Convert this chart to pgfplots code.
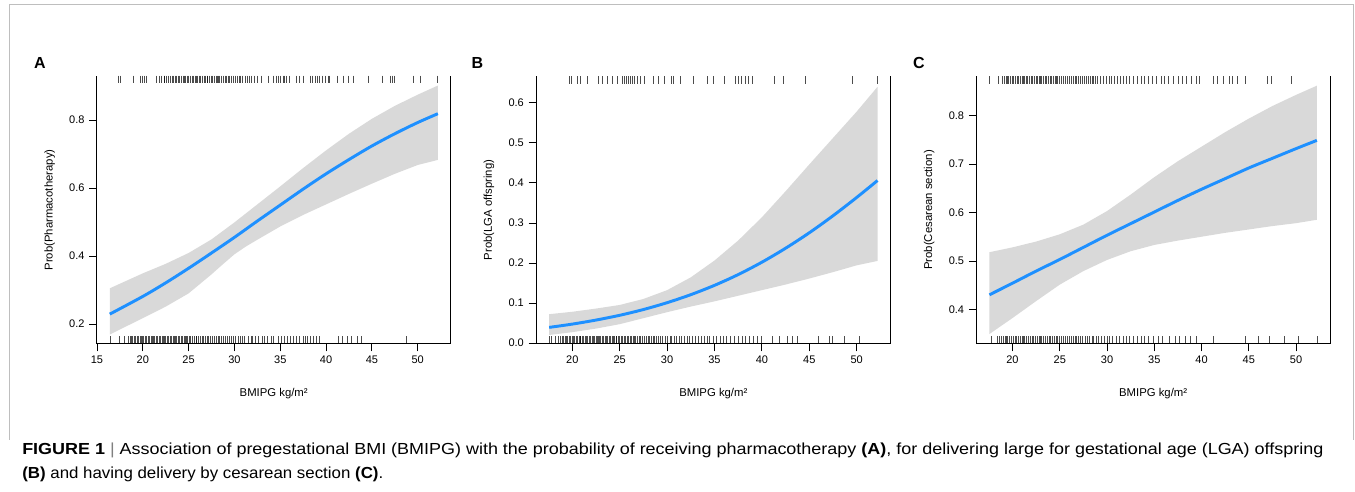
\documentclass[border=0pt]{standalone}
\usepackage{fontspec}
\setmainfont{Liberation Sans}
\usepackage{pgfplots}
\usepackage{pgfplotstable}
\pgfplotsset{compat=1.18}

\definecolor{fitblue}{RGB}{30,144,255}
\definecolor{bandgray}{RGB}{217,217,217}
\definecolor{framegray}{RGB}{190,190,190}

% fitted probability
\pgfplotstableread{
x fit
16.4 0.229
20.0 0.281
22.5 0.321
25.0 0.364
27.5 0.409
30.0 0.455
32.5 0.503
35.0 0.550
37.5 0.597
40.0 0.642
42.5 0.684
45.0 0.724
47.5 0.760
50.0 0.793
52.2 0.819
}\fitA
% confidence band: upper limit left to right, lower limit right to left
\pgfplotstableread{
x y
16.4 0.305
20.0 0.349
22.5 0.377
25.0 0.409
27.5 0.449
30.0 0.499
32.5 0.552
35.0 0.605
37.5 0.659
40.0 0.711
42.5 0.760
45.0 0.804
47.5 0.842
50.0 0.875
52.2 0.902
52.2 0.683
50.0 0.668
47.5 0.642
45.0 0.613
42.5 0.583
40.0 0.552
37.5 0.521
35.0 0.487
32.5 0.448
31.25 0.428
30.0 0.405
28.75 0.376
27.5 0.346
25.0 0.290
22.5 0.251
20.0 0.217
16.4 0.169
}\bandA

\pgfplotstableread{
x fit
17.56 0.0390
20.0 0.0472
22.5 0.0573
25.0 0.0692
27.5 0.0836
30.0 0.1007
32.5 0.1207
35.0 0.1440
37.5 0.1709
40.0 0.2018
42.5 0.2367
45.0 0.2753
47.5 0.3178
50.0 0.3635
52.2 0.4059
}\fitB
\pgfplotstableread{
x y
17.56 0.072
20.0 0.078
22.5 0.086
25.0 0.095
27.5 0.110
30.0 0.132
32.5 0.164
35.0 0.206
37.5 0.256
40.0 0.314
42.5 0.379
45.0 0.446
47.5 0.512
50.0 0.578
52.2 0.640
52.2 0.205
50.0 0.194
47.5 0.177
45.0 0.161
42.5 0.146
40.0 0.132
37.5 0.118
35.0 0.104
32.5 0.091
30.0 0.077
27.5 0.062
25.0 0.047
22.5 0.036
20.0 0.027
17.56 0.020
}\bandB

\pgfplotstableread{
x fit
17.56 0.430
20.0 0.454
22.5 0.479
25.0 0.503
27.5 0.528
30.0 0.553
32.5 0.577
35.0 0.601
37.5 0.625
40.0 0.648
42.5 0.670
45.0 0.692
47.5 0.712
50.0 0.732
52.2 0.749
}\fitC
\pgfplotstableread{
x y
17.56 0.518
20.0 0.528
22.5 0.540
25.0 0.555
27.5 0.575
30.0 0.603
32.5 0.637
35.0 0.673
37.5 0.706
40.0 0.736
42.5 0.766
45.0 0.794
47.5 0.820
50.0 0.843
52.2 0.862
52.2 0.585
50.0 0.578
47.5 0.572
45.0 0.565
42.5 0.558
40.0 0.550
37.5 0.542
35.0 0.533
32.5 0.520
30.0 0.502
27.5 0.479
25.0 0.451
22.5 0.417
20.0 0.382
17.56 0.349
}\bandC

\pgfplotsset{
  panel/.style={
    scale only axis,
    anchor=south west,
    height=201pt,
    clip=false,
    axis x line*=bottom,
    axis y line*=left,
    axis line style={-, black, line width=0.75pt},
    tick align=outside,
    major tick length=5.6pt,
    tick style={black, line width=0.6pt},
    tick label style={font=\fontsize{8.25}{9}\selectfont},
    label style={font=\fontsize{8.5}{10}\selectfont},
    /pgf/number format/assume math mode=true,
    yticklabel style={/pgf/number format/.cd, fixed, fixed zerofill, precision=1},
    xlabel={BMIPG kg/m²},
    xlabel style={at={(axis description cs:0.5,-0.184)}, anchor=center},
    ylabel style={at={(axis description cs:-0.133,0.5)}, anchor=center},
  },
  ciband/.style={fill=bandgray, draw=none},
  fitline/.style={fitblue, line width=2.2pt, smooth},
  rug/.style={only marks, mark=|, mark size=2.8pt,
    mark options={line width=0.55pt, draw=black, opacity=0.7}},
}

\begin{document}
\begin{tikzpicture}
\path[use as bounding box] (0,0) rectangle (1016.25pt,369pt);
\draw[framegray, line width=0.75pt] (6.75pt,39pt) -- (6.75pt,365.25pt) -- (1014.75pt,365.25pt) -- (1014.75pt,39pt);

% ---- A ----
\begin{axis}[panel, at={(72.525pt,111pt)}, width=265.5pt,
  xmin=14.97, xmax=53.6, ymin=0.141, ymax=0.930,
  xtick={15,20,...,50}, ytick={0.2,0.4,0.6,0.8},
  ylabel={Prob(Pharmacotherapy)}]
\addplot[ciband] table[x=x,y=y]{\bandA} -- cycle;
\addplot[fitline] table[x=x,y=fit]{\fitA};
\addplot[rug] coordinates {(17.36,0.92)(17.58,0.92)(19.0,0.92)(19.7,0.92)(19.9,0.92)(20.2,0.92)(20.4,0.92)(21.5,0.92)(21.8,0.92)(22.0,0.92)(22.3,0.92)(22.4,0.92)(22.6,0.92)(22.8,0.92)(23.0,0.92)(23.2,0.92)(23.3,0.92)(23.5,0.92)(23.7,0.92)(23.9,0.92)(24.0,0.92)(24.2,0.92)(24.4,0.92)(24.5,0.92)(24.7,0.92)(24.9,0.92)(25.0,0.92)(25.2,0.92)(25.4,0.92)(25.5,0.92)(25.7,0.92)(25.9,0.92)(26.0,0.92)(26.2,0.92)(26.3,0.92)(26.5,0.92)(26.7,0.92)(26.8,0.92)(27.0,0.92)(27.1,0.92)(27.3,0.92)(27.5,0.92)(27.6,0.92)(27.8,0.92)(28.0,0.92)(28.1,0.92)(28.3,0.92)(28.4,0.92)(28.6,0.92)(28.8,0.92)(29.0,0.92)(29.1,0.92)(29.3,0.92)(29.5,0.92)(29.7,0.92)(29.9,0.92)(30.1,0.92)(30.3,0.92)(30.5,0.92)(30.7,0.92)(30.9,0.92)(31.2,0.92)(31.4,0.92)(31.6,0.92)(31.9,0.92)(32.2,0.92)(32.5,0.92)(32.9,0.92)(33.7,0.92)(34.3,0.92)(34.6,0.92)(34.8,0.92)(35.0,0.92)(35.3,0.92)(35.5,0.92)(35.7,0.92)(36.0,0.92)(36.8,0.92)(37.1,0.92)(37.5,0.92)(38.3,0.92)(38.5,0.92)(38.8,0.92)(39.0,0.92)(39.3,0.92)(39.6,0.92)(39.9,0.92)(40.2,0.92)(40.4,0.92)(41.2,0.92)(41.9,0.92)(42.4,0.92)(43.0,0.92)(44.6,0.92)(46.1,0.92)(47.0,0.92)(47.2,0.92)(47.4,0.92)(49.5,0.92)(50.3,0.92)(52.1,0.92)};
\addplot[rug] coordinates {(16.45,0.153)(17.4,0.153)(18.0,0.153)(18.4,0.153)(18.6,0.153)(18.8,0.153)(18.9,0.153)(19.1,0.153)(19.2,0.153)(19.4,0.153)(19.5,0.153)(19.7,0.153)(19.8,0.153)(20.0,0.153)(20.1,0.153)(20.3,0.153)(20.4,0.153)(20.6,0.153)(20.7,0.153)(20.9,0.153)(21.0,0.153)(21.2,0.153)(21.3,0.153)(21.5,0.153)(21.6,0.153)(21.8,0.153)(21.9,0.153)(22.1,0.153)(22.2,0.153)(22.4,0.153)(22.5,0.153)(22.7,0.153)(22.8,0.153)(23.0,0.153)(23.1,0.153)(23.3,0.153)(23.4,0.153)(23.6,0.153)(23.7,0.153)(23.9,0.153)(24.0,0.153)(24.2,0.153)(24.3,0.153)(24.5,0.153)(24.6,0.153)(24.8,0.153)(24.9,0.153)(25.1,0.153)(25.2,0.153)(25.4,0.153)(25.6,0.153)(25.8,0.153)(25.9,0.153)(26.1,0.153)(26.3,0.153)(26.5,0.153)(26.6,0.153)(26.8,0.153)(27.0,0.153)(27.2,0.153)(27.4,0.153)(27.6,0.153)(27.8,0.153)(28.0,0.153)(28.2,0.153)(28.4,0.153)(28.6,0.153)(28.8,0.153)(29.0,0.153)(29.2,0.153)(29.5,0.153)(29.7,0.153)(29.9,0.153)(30.1,0.153)(30.4,0.153)(30.6,0.153)(30.9,0.153)(31.1,0.153)(31.5,0.153)(31.8,0.153)(32.0,0.153)(32.3,0.153)(32.6,0.153)(33.0,0.153)(33.3,0.153)(33.6,0.153)(34.0,0.153)(34.3,0.153)(34.8,0.153)(35.1,0.153)(35.4,0.153)(35.8,0.153)(36.1,0.153)(36.4,0.153)(36.8,0.153)(37.1,0.153)(37.5,0.153)(37.7,0.153)(38.0,0.153)(38.3,0.153)(38.6,0.153)(38.9,0.153)(39.3,0.153)(41.3,0.153)(41.8,0.153)(42.3,0.153)(42.8,0.153)(43.4,0.153)(43.9,0.153)(48.8,0.153)};
\draw[line width=0.75pt] (rel axis cs:1,0) -- (rel axis cs:1,1);
\end{axis}

% ---- B ----
\begin{axis}[panel, at={(402pt,111pt)}, width=266pt,
  xmin=16.17, xmax=53.59, ymin=-0.0025, ymax=0.667,
  xtick={20,25,...,50}, ytick={0,0.1,...,0.6},
  ylabel={Prob(LGA offspring)}]
\addplot[ciband] table[x=x,y=y]{\bandB} -- cycle;
\addplot[fitline] table[x=x,y=fit]{\fitB};
\addplot[rug] coordinates {(19.7,0.657)(19.9,0.657)(20.5,0.657)(20.9,0.657)(21.6,0.657)(22.8,0.657)(23.2,0.657)(23.7,0.657)(24.2,0.657)(24.8,0.657)(25.3,0.657)(25.5,0.657)(25.7,0.657)(25.9,0.657)(26.1,0.657)(26.3,0.657)(26.5,0.657)(26.9,0.657)(27.2,0.657)(27.6,0.657)(28.6,0.657)(29.1,0.657)(29.7,0.657)(30.4,0.657)(30.7,0.657)(31.4,0.657)(32.8,0.657)(34.2,0.657)(34.9,0.657)(36.0,0.657)(37.2,0.657)(37.5,0.657)(37.8,0.657)(38.3,0.657)(38.6,0.657)(39.0,0.657)(41.3,0.657)(42.3,0.657)(44.6,0.657)(49.5,0.657)(52.2,0.657)};
\addplot[rug] coordinates {(17.55,0.0075)(17.8,0.0075)(18.2,0.0075)(18.5,0.0075)(18.7,0.0075)(18.9,0.0075)(19.1,0.0075)(19.3,0.0075)(19.4,0.0075)(19.5,0.0075)(19.7,0.0075)(19.8,0.0075)(20.0,0.0075)(20.1,0.0075)(20.2,0.0075)(20.4,0.0075)(20.5,0.0075)(20.7,0.0075)(20.8,0.0075)(20.9,0.0075)(21.1,0.0075)(21.2,0.0075)(21.4,0.0075)(21.5,0.0075)(21.6,0.0075)(21.8,0.0075)(21.9,0.0075)(22.1,0.0075)(22.2,0.0075)(22.3,0.0075)(22.5,0.0075)(22.6,0.0075)(22.8,0.0075)(22.9,0.0075)(23.0,0.0075)(23.2,0.0075)(23.3,0.0075)(23.5,0.0075)(23.6,0.0075)(23.7,0.0075)(23.9,0.0075)(24.0,0.0075)(24.2,0.0075)(24.3,0.0075)(24.4,0.0075)(24.6,0.0075)(24.7,0.0075)(24.9,0.0075)(25.0,0.0075)(25.2,0.0075)(25.3,0.0075)(25.5,0.0075)(25.6,0.0075)(25.8,0.0075)(25.9,0.0075)(26.1,0.0075)(26.2,0.0075)(26.4,0.0075)(26.6,0.0075)(26.7,0.0075)(26.9,0.0075)(27.1,0.0075)(27.2,0.0075)(27.4,0.0075)(27.6,0.0075)(27.8,0.0075)(28.0,0.0075)(28.1,0.0075)(28.3,0.0075)(28.5,0.0075)(28.7,0.0075)(28.9,0.0075)(29.1,0.0075)(29.3,0.0075)(29.5,0.0075)(29.8,0.0075)(30.0,0.0075)(30.3,0.0075)(30.5,0.0075)(30.8,0.0075)(31.0,0.0075)(31.3,0.0075)(31.5,0.0075)(31.8,0.0075)(32.1,0.0075)(32.4,0.0075)(32.7,0.0075)(33.0,0.0075)(33.3,0.0075)(33.6,0.0075)(33.9,0.0075)(34.2,0.0075)(34.5,0.0075)(34.9,0.0075)(35.2,0.0075)(35.6,0.0075)(35.9,0.0075)(36.3,0.0075)(36.7,0.0075)(37.1,0.0075)(37.5,0.0075)(37.9,0.0075)(38.3,0.0075)(38.7,0.0075)(39.1,0.0075)(39.5,0.0075)(39.9,0.0075)(41.1,0.0075)(41.8,0.0075)(42.7,0.0075)(43.2,0.0075)(43.7,0.0075)(46.0,0.0075)(47.1,0.0075)(47.4,0.0075)(48.7,0.0075)(50.25,0.0075)};
\draw[line width=0.75pt] (rel axis cs:1,0) -- (rel axis cs:1,1);
\end{axis}

% ---- C ----
\begin{axis}[panel, at={(732.2pt,111pt)}, width=265.3pt,
  xmin=16.17, xmax=53.59, ymin=0.3284, ymax=0.882,
  xtick={20,25,...,50}, ytick={0.4,0.5,0.6,0.7,0.8},
  ylabel={Prob(Cesarean section)}]
\addplot[ciband] table[x=x,y=y]{\bandC} -- cycle;
\addplot[fitline] table[x=x,y=fit]{\fitC};
\addplot[rug] coordinates {(17.57,0.874)(18.5,0.874)(18.9,0.874)(19.1,0.874)(19.3,0.874)(19.5,0.874)(19.6,0.874)(19.8,0.874)(20.0,0.874)(20.1,0.874)(20.3,0.874)(20.5,0.874)(20.6,0.874)(20.8,0.874)(21.0,0.874)(21.1,0.874)(21.3,0.874)(21.5,0.874)(21.6,0.874)(21.8,0.874)(22.0,0.874)(22.1,0.874)(22.3,0.874)(22.5,0.874)(22.6,0.874)(22.8,0.874)(23.0,0.874)(23.1,0.874)(23.3,0.874)(23.5,0.874)(23.6,0.874)(23.8,0.874)(24.0,0.874)(24.1,0.874)(24.3,0.874)(24.5,0.874)(24.6,0.874)(24.8,0.874)(25.0,0.874)(25.2,0.874)(25.4,0.874)(25.6,0.874)(25.8,0.874)(26.0,0.874)(26.2,0.874)(26.4,0.874)(26.6,0.874)(26.8,0.874)(27.0,0.874)(27.2,0.874)(27.4,0.874)(27.6,0.874)(27.8,0.874)(28.0,0.874)(28.2,0.874)(28.4,0.874)(28.6,0.874)(28.8,0.874)(29.0,0.874)(29.3,0.874)(29.6,0.874)(29.9,0.874)(30.2,0.874)(30.5,0.874)(30.8,0.874)(31.1,0.874)(31.4,0.874)(31.7,0.874)(32.0,0.874)(32.4,0.874)(32.8,0.874)(33.2,0.874)(33.6,0.874)(34.0,0.874)(34.4,0.874)(34.8,0.874)(35.2,0.874)(35.7,0.874)(36.1,0.874)(36.5,0.874)(37.0,0.874)(37.5,0.874)(38.0,0.874)(38.4,0.874)(38.9,0.874)(39.4,0.874)(39.8,0.874)(41.2,0.874)(41.7,0.874)(42.3,0.874)(42.9,0.874)(43.3,0.874)(43.8,0.874)(44.6,0.874)(47.0,0.874)(47.4,0.874)(49.5,0.874)};
\addplot[rug] coordinates {(17.8,0.3367)(18.35,0.3367)(18.6,0.3367)(18.8,0.3367)(19.0,0.3367)(19.2,0.3367)(19.4,0.3367)(19.5,0.3367)(19.7,0.3367)(19.9,0.3367)(20.1,0.3367)(20.3,0.3367)(20.4,0.3367)(20.6,0.3367)(20.8,0.3367)(21.0,0.3367)(21.2,0.3367)(21.3,0.3367)(21.5,0.3367)(21.7,0.3367)(21.9,0.3367)(22.1,0.3367)(22.2,0.3367)(22.4,0.3367)(22.6,0.3367)(22.8,0.3367)(23.0,0.3367)(23.1,0.3367)(23.3,0.3367)(23.5,0.3367)(23.7,0.3367)(23.9,0.3367)(24.0,0.3367)(24.2,0.3367)(24.4,0.3367)(24.6,0.3367)(24.8,0.3367)(25.0,0.3367)(25.2,0.3367)(25.4,0.3367)(25.6,0.3367)(25.8,0.3367)(26.0,0.3367)(26.2,0.3367)(26.4,0.3367)(26.6,0.3367)(26.8,0.3367)(27.0,0.3367)(27.2,0.3367)(27.4,0.3367)(27.7,0.3367)(27.9,0.3367)(28.1,0.3367)(28.4,0.3367)(28.6,0.3367)(28.9,0.3367)(29.1,0.3367)(29.4,0.3367)(29.7,0.3367)(30.0,0.3367)(30.3,0.3367)(30.6,0.3367)(31.0,0.3367)(31.3,0.3367)(31.7,0.3367)(32.0,0.3367)(32.4,0.3367)(32.8,0.3367)(33.2,0.3367)(33.6,0.3367)(34.0,0.3367)(34.4,0.3367)(34.9,0.3367)(35.4,0.3367)(35.9,0.3367)(36.6,0.3367)(37.2,0.3367)(37.7,0.3367)(38.3,0.3367)(38.8,0.3367)(39.5,0.3367)(41.2,0.3367)(44.6,0.3367)(46.0,0.3367)(47.2,0.3367)(48.8,0.3367)(50.2,0.3367)(52.2,0.3367)};
\draw[line width=0.75pt] (rel axis cs:1,0) -- (rel axis cs:1,1);
\end{axis}

% panel letters
\node[font=\bfseries\fontsize{12}{14}\selectfont] at (30pt,321.75pt) {A};
\node[font=\bfseries\fontsize{12}{14}\selectfont] at (358.1pt,321.75pt) {B};
\node[font=\bfseries\fontsize{12}{14}\selectfont] at (689.25pt,321.75pt) {C};

% caption
\node[anchor=west, inner sep=0pt, font=\fontsize{12}{14}\selectfont] at (16.5pt,31.5pt)
  {\resizebox{975.75pt}{\height}{\textbf{FIGURE 1} {\color{gray}|} Association of pregestational BMI (BMIPG) with the probability of receiving pharmacotherapy \textbf{(A)}, for delivering large for gestational age (LGA) offspring}};
\node[anchor=west, inner sep=0pt, font=\fontsize{12}{14}\selectfont] at (16.5pt,13.5pt)
  {\resizebox{270.75pt}{\height}{\textbf{(B)} and having delivery by cesarean section \textbf{(C)}.}};
\end{tikzpicture}
\end{document}
